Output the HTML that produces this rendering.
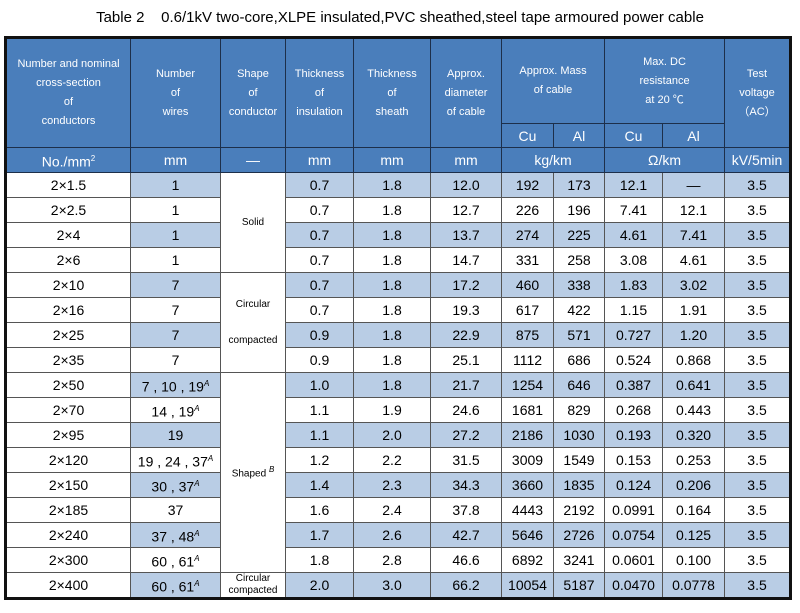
<!DOCTYPE html>
<html><head><meta charset="utf-8"><style>
body{margin:0;width:800px;height:613px;background:#fff;font-family:"Liberation Sans","Noto Sans CJK SC",sans-serif;position:relative;overflow:hidden}
.title{position:absolute;top:9px;left:0;width:800px;text-align:center;font-size:15px;color:#000}
table{position:absolute;left:4px;top:36px;width:786px;border-collapse:collapse;table-layout:fixed;border:3px solid #111}
td{padding:0;text-align:center;vertical-align:middle;border:1px solid #555;font-size:14px;color:#000;height:24px;line-height:14px}
thead td{background:#4a7ebb;color:#fff;border:1px solid #1d2f4a;font-size:11px;line-height:19px}
thead tr.u td{font-size:14px;height:24px}
thead tr.cu td{font-size:14px;height:23px;line-height:20px}
.s{background:#b9cde5}
.sh{font-size:10px;line-height:18px}
.sm{font-size:10px;line-height:12px}
sup{font-size:8px;font-style:italic}
</style></head><body>
<div class="title">Table 2&nbsp;&nbsp;&nbsp; 0.6/1kV two-core,XLPE insulated,PVC sheathed,steel tape armoured power cable</div>
<table>
<colgroup><col style="width:125px"><col style="width:90px"><col style="width:65px"><col style="width:68px"><col style="width:77px"><col style="width:71px"><col style="width:52px"><col style="width:51px"><col style="width:58px"><col style="width:62px"><col style="width:66px"></colgroup>
<thead>
<tr style="height:86px"><td rowspan="2">Number and nominal<br>cross-section<br>of<br>conductors</td><td rowspan="2">Number<br>of<br>wires</td><td rowspan="2">Shape<br>of<br>conductor</td><td rowspan="2">Thickness<br>of<br>insulation</td><td rowspan="2">Thickness<br>of<br>sheath</td><td rowspan="2">Approx.<br>diameter<br>of cable</td><td colspan="2">Approx. Mass<br>of cable</td><td colspan="2">Max. DC<br>resistance<br>at 20 ℃</td><td rowspan="2">Test<br>voltage<br>（AC）</td></tr>
<tr class="cu"><td>Cu</td><td>Al</td><td>Cu</td><td>Al</td></tr>
<tr class="u"><td>No./mm<sup style="font-style:normal">2</sup></td><td>mm</td><td>—</td><td>mm</td><td>mm</td><td>mm</td><td colspan="2">kg/km</td><td colspan="2">Ω/km</td><td>kV/5min</td></tr>
</thead>
<tbody id="tb"></tbody>
</table>
<script>
const sizes=["2×1.5","2×2.5","2×4","2×6","2×10","2×16","2×25","2×35","2×50","2×70","2×95","2×120","2×150","2×185","2×240","2×300","2×400"];
const wires=["1","1","1","1","7","7","7","7","7 , 10 , 19<sup>A</sup>","14 , 19<sup>A</sup>","19","19 , 24 , 37<sup>A</sup>","30 , 37<sup>A</sup>","37","37 , 48<sup>A</sup>","60 , 61<sup>A</sup>","60 , 61<sup>A</sup>"];
const ins=["0.7","0.7","0.7","0.7","0.7","0.7","0.9","0.9","1.0","1.1","1.1","1.2","1.4","1.6","1.7","1.8","2.0"];
const sheath=["1.8","1.8","1.8","1.8","1.8","1.8","1.8","1.8","1.8","1.9","2.0","2.2","2.3","2.4","2.6","2.8","3.0"];
const diam=["12.0","12.7","13.7","14.7","17.2","19.3","22.9","25.1","21.7","24.6","27.2","31.5","34.3","37.8","42.7","46.6","66.2"];
const massCu=["192","226","274","331","460","617","875","1112","1254","1681","2186","3009","3660","4443","5646","6892","10054"];
const massAl=["173","196","225","258","338","422","571","686","646","829","1030","1549","1835","2192","2726","3241","5187"];
const resCu=["12.1","7.41","4.61","3.08","1.83","1.15","0.727","0.524","0.387","0.268","0.193","0.153","0.124","0.0991","0.0754","0.0601","0.0470"];
const resAl=["—","12.1","7.41","4.61","3.02","1.91","1.20","0.868","0.641","0.443","0.320","0.253","0.206","0.164","0.125","0.100","0.0778"];
const volt=["3.5","3.5","3.5","3.5","3.5","3.5","3.5","3.5","3.5","3.5","3.5","3.5","3.5","3.5","3.5","3.5","3.5"];
const shapes={0:["Solid",4,"sh"],4:["Circular<br><br>compacted",4,"sh"],8:["Shaped <sup>B</sup>",8,"sh"],16:["Circular<br>compacted",1,"sm"]};
const tb=document.getElementById('tb');
sizes.forEach((s,i)=>{
  const tr=document.createElement('tr');
  
  
  const sh=i%2===0?'s':'';
  const cell=(html,cls,name)=>{const td=document.createElement('td');td.innerHTML=html;if(cls)td.className=cls;
    
    
    tr.appendChild(td);return td;};
  cell(s,'','size-cell');
  cell(wires[i],sh,'wires-cell');
  if(shapes[i]){const td=cell(shapes[i][0],shapes[i][2],'shape-cell');td.rowSpan=shapes[i][1];}
  cell(ins[i],sh,'insulation-cell');
  cell(sheath[i],sh,'sheath-cell');
  cell(diam[i],sh,'diameter-cell');
  cell(massCu[i],sh,'mass-cu-cell');
  cell(massAl[i],sh,'mass-al-cell');
  cell(resCu[i],sh,'resistance-cu-cell');
  cell(resAl[i],sh,'resistance-al-cell');
  cell(volt[i],sh,'test-voltage-cell');
  tb.appendChild(tr);
});
</script>
</body></html>
